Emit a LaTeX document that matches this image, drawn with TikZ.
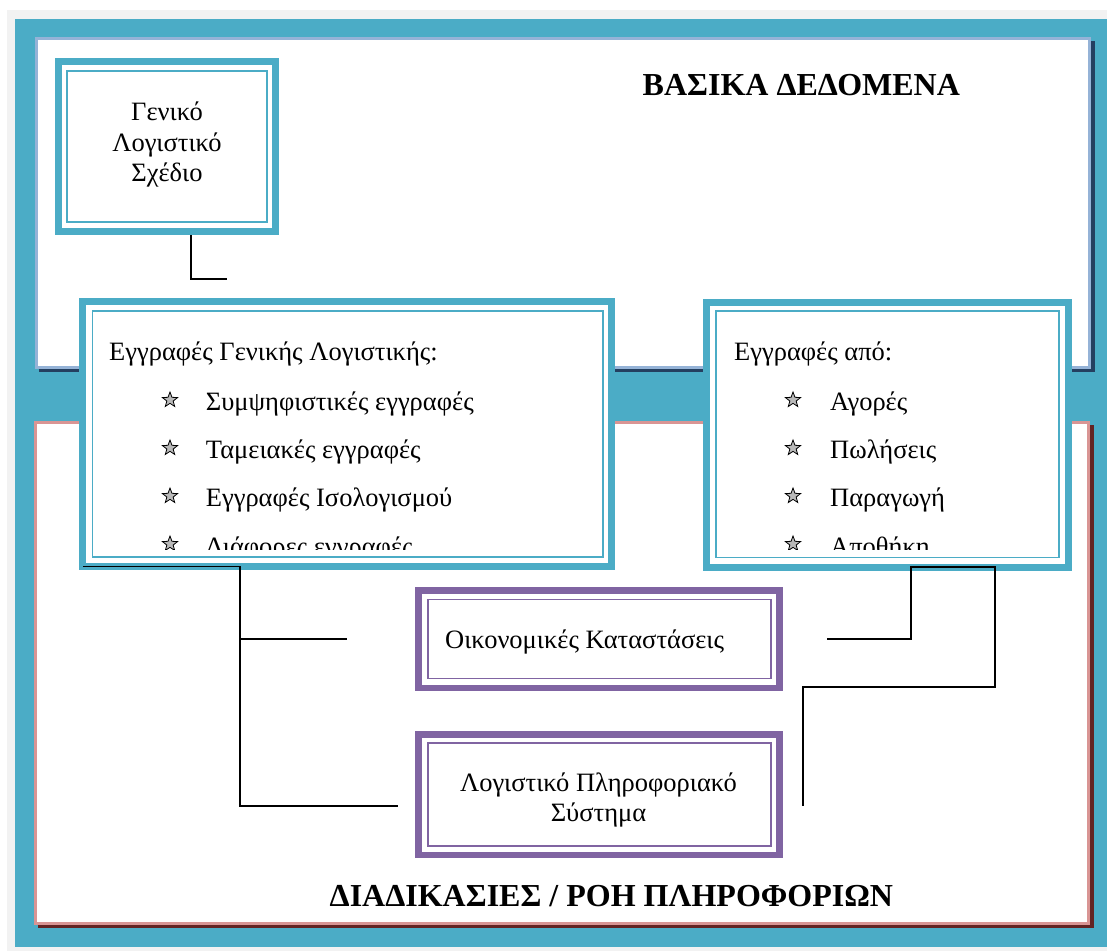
\documentclass[tikz,border=0pt]{standalone}
\usepackage{fontspec}
\setmainfont{Liberation Serif}
\usetikzlibrary{shapes.geometric}
\definecolor{tealc}{HTML}{4BACC6}
\definecolor{bggray}{HTML}{F2F2F2}
\definecolor{lblue}{HTML}{95B3D7}
\definecolor{navy}{HTML}{243F60}
\definecolor{pinkc}{HTML}{D99594}
\definecolor{maroon}{HTML}{632423}
\definecolor{purp}{HTML}{8064A2}
\tikzset{
  tealbox/.style={draw=tealc, line width=7pt, fill=white, inner sep=0pt, rectangle},
  purpbox/.style={draw=purp, line width=6.5pt, fill=white, inner sep=0pt, rectangle},
  tealin/.style={draw=tealc, line width=1.2pt},
  purpin/.style={draw=purp, line width=1.1pt},
  body/.style={font=\fontsize{26.5}{31}\selectfont, inner sep=0pt, text=black},
  ttl/.style={font=\fontsize{32}{37}\selectfont\bfseries, inner sep=0pt, anchor=base west},
  bstar/.style={star, star points=5, star point ratio=2.4, minimum size=16pt, inner sep=0pt, draw=black, line width=0.8pt, fill=gray!55},
  conn/.style={draw=black, line width=1.2pt},
}
\begin{document}
\begin{tikzpicture}[x=1pt,y=-1pt]
\useasboundingbox (0,0) rectangle (1107,951);
\fill[white] (0,0) rectangle (1107,951);
\fill[bggray] (7,10) rectangle (1107,951);
\fill[tealc] (15,19) rectangle (1107,947);

% top frame
\fill[navy] (39,41) rectangle (1095,372);
\node[draw=lblue, line width=3pt, fill=white, inner sep=0pt, minimum width=1053pt, minimum height=329pt] (basic) at (563,203) {};
% bottom frame
\fill[maroon] (38,425) rectangle (1094,928);
\node[draw=pinkc, line width=3pt, fill=white, inner sep=0pt, minimum width=1053pt, minimum height=500.7pt] (proc) at (562,672.85) {};

\node[ttl] (t1) at (642.5,95.7) {ΒΑΣΙΚΑ ΔΕΔΟΜΕΝΑ};
\node[ttl] (t2) at (329.5,906.7) {ΔΙΑΔΙΚΑΣΙΕΣ / ΡΟΗ ΠΛΗΡΟΦΟΡΙΩΝ};

% box 1
\node[tealbox, minimum width=217pt, minimum height=170pt] (gls) at (167,146.5) {};
\draw[tealin] (67,71) rectangle (267,222);
\node[body, anchor=base] (g1) at (167,120) {Γενικό};
\node[body, anchor=base] (g2) at (167,151.7) {Λογιστικό};
\node[body, anchor=base] (g3) at (167,181.7) {Σχέδιο};

% box 2
\node[tealbox, minimum width=529pt, minimum height=265pt] (ggl) at (347,434) {};
\draw[tealin] (92.5,311) rectangle (603,557);
% box 3
\node[tealbox, minimum width=362pt, minimum height=265pt] (apo) at (887.5,435) {};
\draw[tealin] (716,311) rectangle (1059,557.5);

\node[body, anchor=base west] (h2) at (109,360) {Εγγραφές Γενικής Λογιστικής:};
\node[body, anchor=base west] (h3) at (734,360.5) {Εγγραφές από:};
\begin{scope}
\clip (93,312) rectangle (1058,549);
\node[bstar] (s21) at (170,400) {};
\node[bstar] (s22) at (170,448) {};
\node[bstar] (s23) at (170,496) {};
\node[bstar] (s24) at (170,544) {};
\node[body, anchor=base west] (i21) at (205.7,410) {Συμψηφιστικές εγγραφές};
\node[body, anchor=base west] (i22) at (205.7,458) {Ταμειακές εγγραφές};
\node[body, anchor=base west] (i23) at (205.7,506.5) {Εγγραφές Ισολογισμού};
\node[body, anchor=base west] (i24) at (205.7,555) {Διάφορες εγγραφές};
\node[bstar] (s31) at (793,400) {};
\node[bstar] (s32) at (793,448) {};
\node[bstar] (s33) at (793,496) {};
\node[bstar] (s34) at (793,544) {};
\node[body, anchor=base west] (i31) at (830,410) {Αγορές};
\node[body, anchor=base west] (i32) at (830,458) {Πωλήσεις};
\node[body, anchor=base west] (i33) at (830,506.5) {Παραγωγή};
\node[body, anchor=base west] (i34) at (830,555) {Αποθήκη};
\end{scope}

% box 4
\node[purpbox, minimum width=361pt, minimum height=97.5pt] (oik) at (599,639) {};
\draw[purpin] (428,599.5) rectangle (771,678.5);
\node[body, anchor=base west] (o1) at (445,648) {Οικονομικές Καταστάσεις};
% box 5
\node[purpbox, minimum width=361pt, minimum height=120.5pt] (lps) at (599,794.5) {};
\draw[purpin] (428,743) rectangle (771,846);
\node[body, anchor=base] (l1) at (598.5,791.7) {Λογιστικό Πληροφοριακό};
\node[body, anchor=base] (l2) at (598.5,821.7) {Σύστημα};

% connectors
\coordinate (c1) at (227,279);
\draw[conn] ([xshift=24pt]gls.south) |- (c1);

\coordinate (c2a) at (347,639);
\coordinate (c2b) at (398,806);
\coordinate (j2) at (240,639);
\draw[conn] ([xshift=4pt,yshift=3.5pt]ggl.south west) -| (240,806) -- (c2b);
\draw[conn] (j2) -- (c2a);

\coordinate (r1) at (827,639);
\coordinate (r2) at (803,806);
\draw[conn] (r1) -| ([xshift=23.5pt,yshift=4pt]apo.south) -- (995,567) |- (803,687) -- (r2);
\end{tikzpicture}
\end{document}
